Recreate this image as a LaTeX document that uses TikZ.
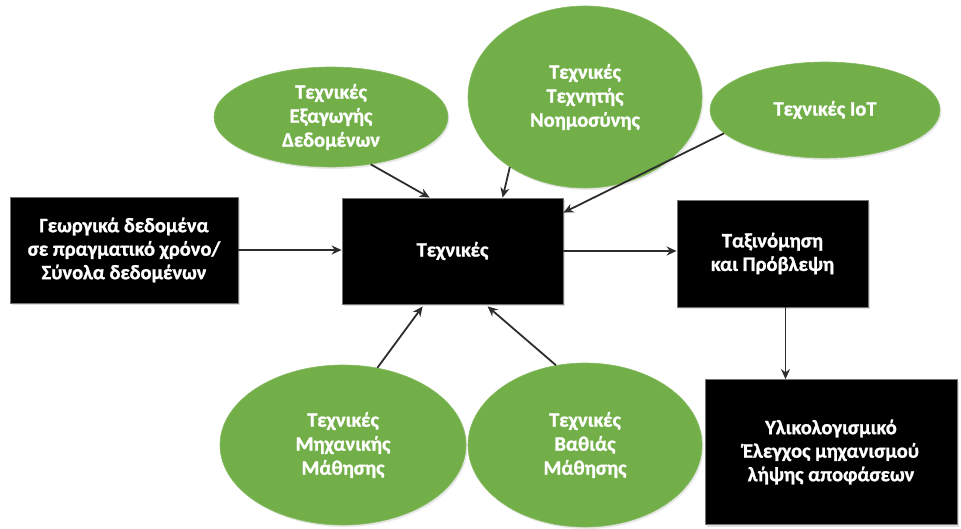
\documentclass[tikz,border=0pt]{standalone}
\usepackage{fontspec}
\setmainfont{Carlito}[BoldFont={Carlito Bold}, BoldFeatures={FakeBold=1.2}]
\usetikzlibrary{shapes.geometric,arrows.meta,shadows}
\definecolor{leaf}{RGB}{114,175,72}
\definecolor{arrowgray}{RGB}{45,45,45}
\tikzset{
  darkbox/.style={rectangle, fill=black, draw=black!55, line width=0.8pt,
    text=white, align=center, font=\bfseries\fontsize{20.5}{23.5}\selectfont,
    drop shadow={opacity=0.25, shadow xshift=2pt, shadow yshift=-2pt}},
  greenblob/.style={ellipse, fill=leaf, draw=leaf!85!white, line width=0.6pt,
    text=white, align=center, font=\bfseries\fontsize{20.5}{24}\selectfont,
    inner sep=0pt,
    drop shadow={opacity=0.18, shadow xshift=1.5pt, shadow yshift=-2pt}},
  flow/.style={draw=arrowgray, line width=1.8pt,
    -{Stealth[length=10pt,width=9pt]}}
}
\begin{document}
\begin{tikzpicture}[x=1pt,y=-1pt]
  \useasboundingbox (0,0) rectangle (961,529);

  % rectangular stages
  \node[darkbox, minimum width=228pt, minimum height=106pt] (src) at (124,250)
    {Γεωργικά δεδομένα\\σε πραγματικό χρόνο/\\Σύνολα δεδομένων};
  \node[darkbox, minimum width=221pt, minimum height=106pt] (tech) at (452.5,251)
    {Τεχνικές};
  \node[darkbox, minimum width=191pt, minimum height=107pt] (cls) at (772.5,253.5)
    {Ταξινόμηση\\και Πρόβλεψη};
  \node[darkbox, minimum width=252pt, minimum height=145pt] (hw) at (831,452)
    {Υλικολογισμικό\\Έλεγχος μηχανισμού\\λήψης αποφάσεων};

  % technique families
  \node[greenblob, minimum width=234pt, minimum height=100pt] (e1) at (331,117)
    {Τεχνικές\\Εξαγωγής\\Δεδομένων};
  \node[greenblob, minimum width=234pt, minimum height=182pt] (e2) at (585,97)
    {Τεχνικές\\Τεχνητής\\Νοημοσύνης};
  \node[greenblob, minimum width=230pt, minimum height=96pt] (e3) at (825,110)
    {Τεχνικές IoT};
  \node[greenblob, minimum width=246pt, minimum height=160pt] (e4) at (343,445)
    {Τεχνικές\\Μηχανικής\\Μάθησης};
  \node[greenblob, minimum width=234pt, minimum height=164pt] (e5) at (585,445)
    {Τεχνικές\\Βαθιάς\\Μάθησης};

  % connectors
  \draw[flow] (src.east) -- (src.east -| tech.west);
  \draw[flow] (tech.east) -- (tech.east -| cls.west);
  \draw[flow] ([xshift=13pt]cls.south) -- ([xshift=13pt]cls.south |- hw.north);
  \draw[flow] (e1.-50) -- ([xshift=88pt]tech.north west);
  \draw[flow] (e2.223) -- ([xshift=161pt]tech.north west);
  \draw[flow] (e3.193) -- ([yshift=-15pt]tech.north east);
  \draw[flow] (e4.66) -- ([xshift=81pt,yshift=-2pt]tech.south west);
  \draw[flow] (e5.110) -- ([xshift=146pt,yshift=-2pt]tech.south west);
\end{tikzpicture}
\end{document}
